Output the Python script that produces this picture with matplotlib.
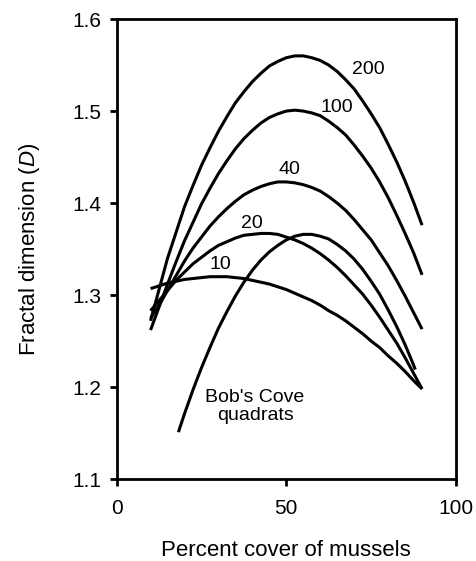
import matplotlib
matplotlib.use('Agg')
import matplotlib.pyplot as plt

plt.rcParams['font.family'] = ['Liberation Sans', 'DejaVu Sans']
plt.rcParams['mathtext.fontset'] = 'custom'
plt.rcParams['mathtext.it'] = 'Liberation Sans:italic'
plt.rcParams['mathtext.rm'] = 'Liberation Sans'

# percent cover values where the model curves were read
cover = [10, 12.5, 15, 17.5, 20, 22.5, 25, 27.5, 30, 32.5, 35, 37.5, 40, 42.5, 45, 47.5, 50,
         52.5, 55, 57.5, 60, 62.5, 65, 67.5, 70, 72.5, 75, 77.5, 80, 82.5, 85, 87.5, 90]

d_200 = [1.272, 1.306, 1.340, 1.368, 1.396, 1.419, 1.441, 1.460, 1.478, 1.494, 1.509, 1.521,
         1.532, 1.541, 1.549, 1.554, 1.558, 1.560, 1.560, 1.558, 1.555, 1.550, 1.543, 1.534,
         1.524, 1.511, 1.497, 1.482, 1.464, 1.445, 1.424, 1.401, 1.376]
d_100 = [1.262, 1.287, 1.312, 1.336, 1.359, 1.379, 1.399, 1.416, 1.432, 1.446, 1.459, 1.470,
         1.479, 1.487, 1.493, 1.497, 1.500, 1.501, 1.500, 1.498, 1.495, 1.489, 1.482, 1.474,
         1.463, 1.451, 1.438, 1.423, 1.406, 1.387, 1.367, 1.346, 1.322]
d_40 = [1.275, 1.289, 1.305, 1.321, 1.337, 1.351, 1.363, 1.375, 1.385, 1.394, 1.402, 1.409,
        1.414, 1.418, 1.421, 1.423, 1.423, 1.422, 1.420, 1.417, 1.413, 1.407, 1.400, 1.392,
        1.382, 1.371, 1.360, 1.346, 1.332, 1.316, 1.299, 1.281, 1.263]
d_20 = [1.283, 1.294, 1.305, 1.316, 1.325, 1.334, 1.341, 1.348, 1.354, 1.358, 1.362, 1.365,
        1.366, 1.367, 1.367, 1.366, 1.363, 1.360, 1.356, 1.351, 1.345, 1.338, 1.330, 1.321,
        1.311, 1.301, 1.289, 1.276, 1.262, 1.248, 1.232, 1.215, 1.198]
d_10 = [1.307, 1.310, 1.313, 1.315, 1.317, 1.318, 1.319, 1.320, 1.320, 1.320, 1.319, 1.318,
        1.316, 1.314, 1.312, 1.309, 1.306, 1.302, 1.298, 1.294, 1.289, 1.283, 1.278, 1.272,
        1.265, 1.258, 1.250, 1.243, 1.234, 1.226, 1.217, 1.207, 1.198]

bob_cover = [18.2, 20, 22.5, 25, 27.5, 30, 32.5, 35, 37.5, 40, 42.5, 45, 47.5, 50, 52.5, 55,
             57.5, 60, 62.5, 65, 67.5, 70, 72.5, 75, 77.5, 80, 82.5, 85, 87.5, 88]
bob_d = [1.151, 1.171, 1.197, 1.221, 1.243, 1.264, 1.282, 1.299, 1.314, 1.327, 1.338, 1.347,
         1.354, 1.360, 1.364, 1.366, 1.366, 1.364, 1.361, 1.355, 1.348, 1.339, 1.328, 1.315,
         1.301, 1.284, 1.266, 1.246, 1.224, 1.219]

curve_labels = ['200', '100', '40', '20', '10']
label_x = [74.2, 64.8, 50.9, 39.8, 30.7]
label_y = [1.545, 1.504, 1.437, 1.378, 1.333]

fig = plt.figure(figsize=(4.76, 5.61), dpi=100)
ax = fig.add_axes([0.245, 0.146, 0.713, 0.820])

for ys in [d_200, d_100, d_40, d_20, d_10]:
    ax.plot(cover, ys, color='black', lw=2.2, solid_capstyle='butt')
ax.plot(bob_cover, bob_d, color='black', lw=2.2, solid_capstyle='butt')

for lab, lx, ly in zip(curve_labels, label_x, label_y):
    ax.text(lx, ly, lab, fontsize=14, ha='center', va='center')
ax.text(40.8, 1.179, "Bob's Cove\nquadrats", fontsize=14, ha='center', va='center',
        linespacing=1.05)

ax.set_xlim(0, 100)
ax.set_ylim(1.1, 1.6)
ax.set_xticks([0, 50, 100])
ax.set_yticks([1.1, 1.2, 1.3, 1.4, 1.5, 1.6])
ax.set_yticklabels(['1.1', '1.2', '1.3', '1.4', '1.5', '1.6'])
ax.tick_params(direction='out', length=5, width=2, labelsize=15, pad=6)
ax.tick_params(axis='x', pad=9)
for s in ax.spines.values():
    s.set_linewidth(2)

ax.set_xlabel('Percent cover of mussels', fontsize=16, labelpad=16)
ax.set_ylabel('Fractal dimension ($\\mathit{D}$)', fontsize=16, labelpad=22)

fig.savefig('out.png', dpi=100)
